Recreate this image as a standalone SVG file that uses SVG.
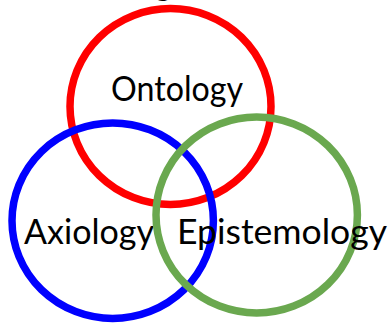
<svg xmlns="http://www.w3.org/2000/svg" width="392" height="323" viewBox="0 0 392 323">
<style>
.c{fill:none;stroke-width:7.5}
.t{font-family:Lato,"Open Sans","Liberation Sans",sans-serif;font-size:34px;fill:#000}
</style>
<rect width="392" height="323" fill="#fff"/>
<text class="t" x="154" y="-5">g</text>
<g id="ontology">
<ellipse class="c" cx="170.5" cy="106.5" rx="100.5" ry="98" stroke="#ff0000"/>
<text class="t" x="111" y="101" textLength="132" lengthAdjust="spacingAndGlyphs">Ontology</text>
</g>
<g id="axiology">
<ellipse class="c" cx="112.7" cy="220.7" rx="100.7" ry="97.7" stroke="#0000ff"/>
<text class="t" x="24" y="244" textLength="130" lengthAdjust="spacingAndGlyphs">Axiology</text>
</g>
<g id="epistemology">
<ellipse class="c" cx="256.7" cy="215" rx="100.7" ry="98" stroke="#6aa84f"/>
<text class="t" x="177" y="244" textLength="210" lengthAdjust="spacingAndGlyphs">Epistemology</text>
</g>
<g id="connectors"/>
</svg>
